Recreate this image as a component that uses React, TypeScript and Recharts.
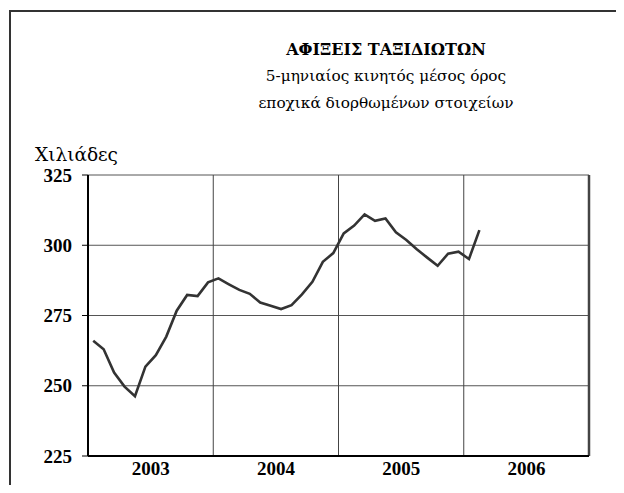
import { LineChart, Line, XAxis, YAxis, CartesianGrid, ReferenceLine } from 'recharts';

const years = ['2003', '2004', '2005', '2006'];
const arrivals2003 = [266.0, 263.0, 254.7, 249.7, 246.3, 256.8, 260.9, 267.5, 276.7, 282.3, 281.9, 286.8];
const arrivals2004 = [288.2, 286.1, 284.1, 282.7, 279.6, 278.5, 277.3, 278.7, 282.5, 287.0, 294.1, 297.2];
const arrivals2005 = [304.2, 307.0, 311.0, 308.7, 309.5, 304.6, 301.9, 298.6, 295.6, 292.7, 297.0, 297.7];
const arrivals2006 = [295.1, 305.4];
const yTicks = [225, 250, 275, 300, 325];

const monthly = [...arrivals2003, ...arrivals2004, ...arrivals2005, ...arrivals2006];
// month i sits in the middle of its slot, a year is 12 slots wide
const data = monthly.map((v, i) => ({ m: i + 0.5, value: v }));
const yearCenters = years.map((_, i) => i * 12 + 6);
const yearEdges = [12, 24, 36];

const serif = '"Liberation Serif", "DejaVu Serif", serif';
const greekSerif = '"DejaVu Serif", serif';

export default function App() {
  return (
    <div style={{ position: 'relative', margin: -8, width: 624, height: 493, overflow: 'hidden', background: '#fff', fontFamily: serif }}>
      <div style={{ position: 'absolute', left: 0, top: 0, width: 2, height: 493, background: '#333' }} />
      <div style={{ position: 'absolute', left: 9, top: 10, width: 660, height: 540, border: '2px solid #333' }} />

      <div style={{ position: 'absolute', left: 186, width: 400, top: 36, textAlign: 'center', color: '#000', fontFamily: greekSerif }}>
        <div style={{ fontWeight: 'bold', fontSize: 16, lineHeight: '27px' }}>ΑΦΙΞΕΙΣ ΤΑΞΙΔΙΩΤΩΝ</div>
        <div style={{ fontSize: 15.3, lineHeight: '27px' }}>5-μηνιαίος κινητός μέσος όρος</div>
        <div style={{ fontSize: 15.3, lineHeight: '27px' }}>εποχικά διορθωμένων στοιχείων</div>
      </div>
      <div style={{ position: 'absolute', left: 35, top: 144, fontSize: 18.5, color: '#000', fontFamily: greekSerif }}>Χιλιάδες</div>

      <div style={{ position: 'absolute', left: 0, top: 0 }}>
        <LineChart width={624} height={493} data={data} margin={{ top: 175, right: 35, bottom: 7, left: 0 }}>
          <CartesianGrid vertical={false} stroke="#555" strokeWidth={1} />
          <XAxis
            dataKey="m"
            type="number"
            domain={[0, 48]}
            ticks={yearCenters}
            tickFormatter={(v: number) => years[Math.round((v - 6) / 12)]}
            tickLine={false}
            axisLine={{ stroke: '#000', strokeWidth: 2 }}
            tick={{ fill: '#000', fontSize: 19, fontWeight: 'bold', fontFamily: serif }}
            tickMargin={0}
            height={30}
            interval={0}
          />
          <YAxis
            domain={[225, 325]}
            ticks={yTicks}
            width={88}
            tickSize={6}
            tickMargin={10}
            tickLine={{ stroke: '#000' }}
            axisLine={{ stroke: '#000', strokeWidth: 2 }}
            tick={{ fill: '#000', fontSize: 19, fontWeight: 'bold', fontFamily: serif }}
            interval={0}
          />
          {yearEdges.map((x) => (
            <ReferenceLine key={x} x={x} stroke="#444" strokeWidth={1} />
          ))}
          <ReferenceLine x={48} stroke="#444" strokeWidth={2.5} />
          <Line type="linear" dataKey="value" stroke="#333" strokeWidth={2.6} dot={false} isAnimationActive={false} />
        </LineChart>
      </div>
    </div>
  );
}
